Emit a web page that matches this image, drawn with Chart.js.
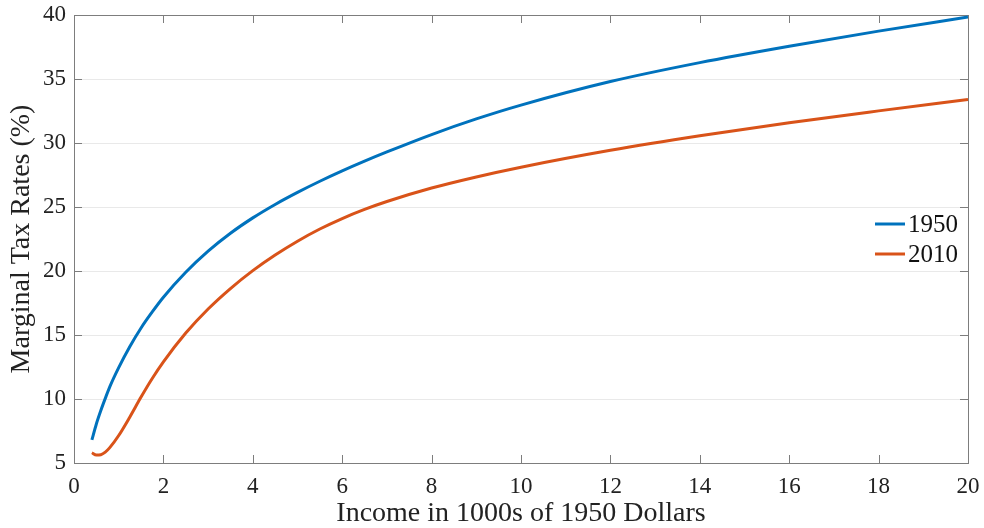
<!DOCTYPE html>
<html>
<head>
<meta charset="utf-8">
<script src="https://cdn.jsdelivr.net/npm/chart.js@4/dist/chart.umd.min.js"></script>
<style>
  html, body { margin: 0; padding: 0; background: #fff; }
  #wrap { width: 984px; height: 528px; position: relative; }
</style>
</head>
<body>
<div id="wrap"><canvas id="chart"></canvas></div>
<script>
// income in 1000s of 1950 dollars
const income = [0.4, 0.5, 0.6, 0.7, 0.8, 1.0, 1.25, 1.5, 1.75, 2.0, 2.5, 3.0, 3.5, 4.0, 4.5, 5.0, 5.5, 6.0, 6.5, 7.0, 8.0, 9.0, 10, 12, 14, 16, 18, 20];
// marginal tax rates (%)
const rates1950 = [6.8, 8.05, 9.1, 10.05, 10.95, 12.45, 14.1, 15.55, 16.8, 17.95, 19.9, 21.55, 22.95, 24.15, 25.2, 26.14, 27.01, 27.82, 28.58, 29.3, 30.66, 31.88, 32.96, 34.8, 36.28, 37.56, 38.74, 39.84];
const rates2010 = [5.8, 5.62, 5.65, 5.85, 6.2, 7.15, 8.6, 10.15, 11.6, 12.9, 15.15, 17.03, 18.63, 20.03, 21.25, 22.33, 23.28, 24.1, 24.81, 25.43, 26.48, 27.35, 28.11, 29.43, 30.57, 31.59, 32.51, 33.39];
const seriesNames = ['1950', '2010'];
const xTicks = [0, 2, 4, 6, 8, 10, 12, 14, 16, 18, 20];
const yTicks = [5, 10, 15, 20, 25, 30, 35, 40];

const FONT = "'Liberation Serif', 'DejaVu Serif', serif";
const BLUE = '#0072BD';
const ORANGE = '#D95319';

const toPoints = (ys) => income.map((x, i) => ({ x: x, y: ys[i] }));

// box round the plot with inward ticks, like matlab axes
const boxPlugin = {
    id: 'box',
    beforeDatasetsDraw(chart) {
        const { ctx, chartArea: a, scales } = chart;
        const len = 8;
        ctx.save();
        ctx.strokeStyle = '#7d7d7d';
        ctx.lineWidth = 1;
        ctx.beginPath();
        xTicks.forEach(v => {
            const px = Math.round(scales.x.getPixelForValue(v)) + 0.5;
            ctx.moveTo(px, a.bottom); ctx.lineTo(px, a.bottom - len);
            ctx.moveTo(px, a.top); ctx.lineTo(px, a.top + len);
        });
        yTicks.forEach(v => {
            const py = Math.round(scales.y.getPixelForValue(v)) + 0.5;
            ctx.moveTo(a.left, py); ctx.lineTo(a.left + len, py);
            ctx.moveTo(a.right, py); ctx.lineTo(a.right - len, py);
        });
        ctx.stroke();
        ctx.strokeRect(Math.round(a.left) + 0.5, Math.round(a.top) + 0.5,
            Math.round(a.right - a.left), Math.round(a.bottom - a.top));
        ctx.restore();
    }
};

// legend inside the axes, right side
const legendPlugin = {
    id: 'inlineLegend',
    afterDraw(chart) {
        const { ctx, chartArea: a } = chart;
        ctx.save();
        ctx.font = '25px ' + FONT;
        ctx.textBaseline = 'middle';
        ctx.fillStyle = '#111';
        chart.data.datasets.forEach((ds, i) => {
            const y = a.top + 209 + i * 30;
            ctx.strokeStyle = ds.borderColor;
            ctx.lineWidth = 3;
            ctx.beginPath();
            ctx.moveTo(a.right - 93, y);
            ctx.lineTo(a.right - 63, y);
            ctx.stroke();
            ctx.fillText(ds.label, a.right - 60, y + 1);
        });
        ctx.restore();
    }
};

new Chart(document.getElementById('chart'), {
    type: 'line',
    data: {
        datasets: [{
            label: seriesNames[0],
            data: toPoints(rates1950),
            borderColor: BLUE,
            borderWidth: 3,
            pointRadius: 0,
            cubicInterpolationMode: 'monotone',
            fill: false
        }, {
            label: seriesNames[1],
            data: toPoints(rates2010),
            borderColor: ORANGE,
            borderWidth: 3,
            pointRadius: 0,
            cubicInterpolationMode: 'monotone',
            fill: false
        }]
    },
    options: {
        responsive: true,
        maintainAspectRatio: false,
        animation: false,
        layout: { padding: { left: 0, top: 15, right: 16, bottom: 0 } },
        plugins: {
            legend: { display: false },
            tooltip: { enabled: false }
        },
        scales: {
            x: {
                type: 'linear',
                min: 0,
                max: 20,
                afterBuildTicks: (s) => { s.ticks = xTicks.map(v => ({ value: v })); },
                afterFit: (s) => { s.height = 65; s.paddingLeft = 0; s.paddingRight = 0; },
                grid: { display: false },
                border: { display: false },
                ticks: {
                    color: '#222',
                    font: { family: FONT, size: 23 },
                    padding: 2,
                    maxRotation: 0
                },
                title: {
                    display: true,
                    text: 'Income in 1000s of 1950 Dollars',
                    color: '#222',
                    font: { family: FONT, size: 28, lineHeight: 1 },
                    padding: { top: 0, bottom: 0 }
                }
            },
            y: {
                type: 'linear',
                min: 5,
                max: 40,
                afterBuildTicks: (s) => { s.ticks = yTicks.map(v => ({ value: v })); },
                afterFit: (s) => { s.width = 74; s.paddingTop = 0; s.paddingBottom = 0; },
                grid: { color: '#e9e9e9', drawTicks: false },
                border: { display: false },
                ticks: {
                    color: '#222',
                    font: { family: FONT, size: 23 },
                    padding: 8
                },
                title: {
                    display: true,
                    text: 'Marginal Tax Rates (%)',
                    color: '#222',
                    font: { family: FONT, size: 28, lineHeight: 1 },
                    padding: { top: 8, bottom: 0 }
                }
            }
        }
    },
    plugins: [boxPlugin, legendPlugin]
});
</script>
</body>
</html>
